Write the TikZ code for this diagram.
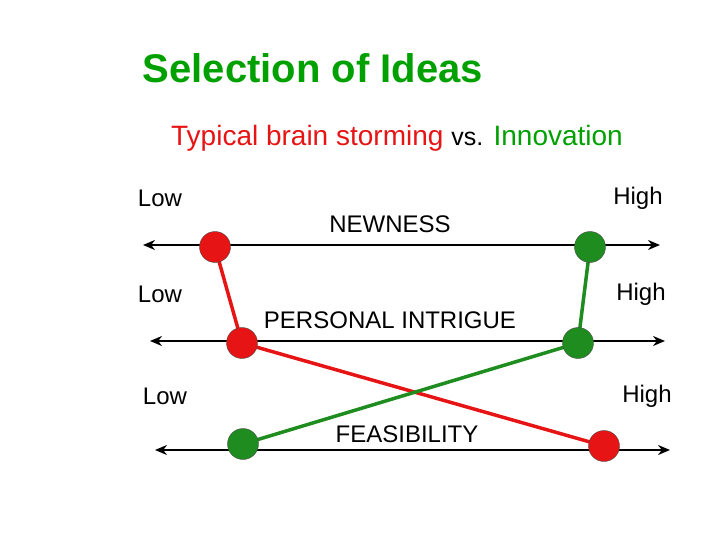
\documentclass[tikz,border=0pt]{standalone}
\usepackage{fontspec}
\setmainfont{Liberation Sans}
\usetikzlibrary{arrows.meta}
\definecolor{gr}{RGB}{0,160,0}
\definecolor{dgr}{RGB}{30,140,30}
\definecolor{rd}{RGB}{230,20,20}
\begin{document}
\begin{tikzpicture}[x=1pt,y=-1pt,
 axis/.style={line width=2.5pt,{Stealth[length=12pt,width=10pt]}-{Stealth[length=12pt,width=10pt]}},
 lab/.style={font=\fontsize{24}{28}\selectfont},
 rdot/.style={circle,fill=rd,draw=black!70,minimum size=31pt,inner sep=0},
 gdot/.style={circle,fill=dgr,draw=black!70,minimum size=31pt,inner sep=0},
 rl/.style={rd,line width=3.5pt},gl/.style={dgr,line width=3.5pt}]
\useasboundingbox (0,0) rectangle (720,540);
\node[text=gr,font=\bfseries\fontsize{40}{44}\selectfont] (title) at (313,68) {Selection of Ideas};
\node[font=\fontsize{28}{32}\selectfont] (sub) at (397,138) {\textcolor{rd}{Typical brain storming} {\fontsize{25}{28}\selectfont vs.} \textcolor{gr}{Innovation}};
\coordinate (a1) at (143,245); \coordinate (b1) at (660,245);
\coordinate (a2) at (150,341); \coordinate (b2) at (665,341);
\coordinate (a3) at (155,450); \coordinate (b3) at (670,450);
\draw[axis] (a1) -- (b1);
\draw[axis] (a2) -- (b2);
\draw[axis] (a3) -- (b3);
\node[lab] (l1) at (160,198) {Low}; \node[lab] (h1) at (638,198) {High};
\node[lab] (n1) at (390,224) {NEWNESS};
\node[lab] (l2) at (160,294) {Low}; \node[lab] (h2) at (641,294) {High};
\node[lab] (n2) at (390,320) {PERSONAL INTRIGUE};
\node[lab] (l3) at (165,396) {Low}; \node[lab] (h3) at (647,396) {High};
\node[lab] (n3) at (407,434) {FEASIBILITY};
\coordinate (r1) at (215,247); \coordinate (g1) at (590,247);
\coordinate (r2) at (242,343); \coordinate (g2) at (578,343);
\coordinate (g3) at (243,444); \coordinate (r3) at (604,446);
\draw[rl] (r1) -- (r2) -- (r3);
\draw[gl] (g1) -- (g2) -- (g3);
\node[rdot] (R1) at (r1) {}; \node[gdot] (G1) at (g1) {};
\node[rdot] (R2) at (r2) {}; \node[gdot] (G2) at (g2) {};
\node[gdot] (G3) at (g3) {}; \node[rdot] (R3) at (r3) {};
\end{tikzpicture}
\end{document}
